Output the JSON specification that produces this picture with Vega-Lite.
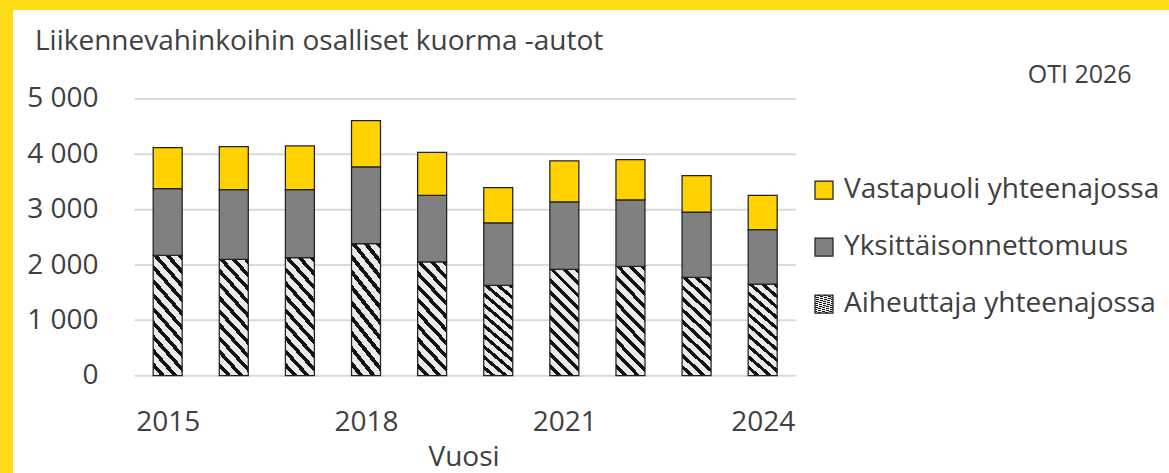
{
  "$schema": "https://vega.github.io/schema/vega-lite/v6.json",
  "width": 1156,
  "height": 463,
  "autosize": {"type": "none"},
  "padding": {"left": 13, "top": 10, "right": 0, "bottom": 0},
  "background": "#FDDC17",
  "config": {
    "view": {"fill": "#ffffff", "stroke": null},
    "font": "Open Sans",
    "axis": {"labelFont": "Open Sans", "titleFont": "Open Sans", "labelColor": "#404040", "titleColor": "#404040", "domain": false, "ticks": false, "tickSize": 0, "grid": false, "labelFontSize": 28, "titleFontSize": 28, "titleFontWeight": "normal"},
    "legend": {"labelFont": "Open Sans", "labelFontSize": 28, "labelColor": "#404040", "labelLimit": 500}
  },
  "title": {"text": "Liikennevahinkoihin osalliset kuorma -autot", "anchor": "start", "frame": "group", "dx": 22, "dy": 68, "offset": 0, "baseline": "alphabetic", "fontSize": 28, "fontWeight": "normal", "color": "#404040", "font": "Open Sans"},
  "datasets": {
    "bars": [
      {"year": 2015, "s": "Aiheuttaja yhteenajossa", "n": 2176},
      {"year": 2015, "s": "Yksittäisonnettomuus", "n": 1204},
      {"year": 2015, "s": "Vastapuoli yhteenajossa", "n": 741},
      {"year": 2016, "s": "Aiheuttaja yhteenajossa", "n": 2104},
      {"year": 2016, "s": "Yksittäisonnettomuus", "n": 1258},
      {"year": 2016, "s": "Vastapuoli yhteenajossa", "n": 777},
      {"year": 2017, "s": "Aiheuttaja yhteenajossa", "n": 2133},
      {"year": 2017, "s": "Yksittäisonnettomuus", "n": 1229},
      {"year": 2017, "s": "Vastapuoli yhteenajossa", "n": 789},
      {"year": 2018, "s": "Aiheuttaja yhteenajossa", "n": 2386},
      {"year": 2018, "s": "Yksittäisonnettomuus", "n": 1386},
      {"year": 2018, "s": "Vastapuoli yhteenajossa", "n": 837},
      {"year": 2019, "s": "Aiheuttaja yhteenajossa", "n": 2055},
      {"year": 2019, "s": "Yksittäisonnettomuus", "n": 1205},
      {"year": 2019, "s": "Vastapuoli yhteenajossa", "n": 777},
      {"year": 2020, "s": "Aiheuttaja yhteenajossa", "n": 1634},
      {"year": 2020, "s": "Yksittäisonnettomuus", "n": 1126},
      {"year": 2020, "s": "Vastapuoli yhteenajossa", "n": 638},
      {"year": 2021, "s": "Aiheuttaja yhteenajossa", "n": 1923},
      {"year": 2021, "s": "Yksittäisonnettomuus", "n": 1216},
      {"year": 2021, "s": "Vastapuoli yhteenajossa", "n": 741},
      {"year": 2022, "s": "Aiheuttaja yhteenajossa", "n": 1977},
      {"year": 2022, "s": "Yksittäisonnettomuus", "n": 1198},
      {"year": 2022, "s": "Vastapuoli yhteenajossa", "n": 729},
      {"year": 2023, "s": "Aiheuttaja yhteenajossa", "n": 1778},
      {"year": 2023, "s": "Yksittäisonnettomuus", "n": 1180},
      {"year": 2023, "s": "Vastapuoli yhteenajossa", "n": 657},
      {"year": 2024, "s": "Aiheuttaja yhteenajossa", "n": 1657},
      {"year": 2024, "s": "Yksittäisonnettomuus", "n": 982},
      {"year": 2024, "s": "Vastapuoli yhteenajossa", "n": 621}
    ],
    "grid": [{"v": 0}, {"v": 1000}, {"v": 2000}, {"v": 3000}, {"v": 4000}, {"v": 5000}],
    "note": [{"t": "OTI 2026"}]
  },
  "layer": [
    {
      "data": {"name": "grid"},
      "mark": {"type": "rule", "color": "#D9D9D9", "strokeWidth": 2},
      "encoding": {
        "y": {"field": "v", "type": "quantitative", "scale": {"domain": [-1758, 6608], "nice": false, "zero": false},
              "axis": {"values": [0, 1000, 2000, 3000, 4000, 5000], "labelExpr": "replace(format(datum.value, ','), ',', ' ')", "title": null, "offset": -87, "labelPadding": 2}},
        "x": {"datum": 2014.5, "type": "quantitative", "scale": {"domain": [2012.736, 2030.07], "nice": false, "zero": false},
              "axis": {"values": [2015, 2018, 2021, 2024], "format": "d", "title": "Vuosi", "offset": -65, "labelPadding": 0, "labelFlush": false, "labelOverlap": false, "titleX": 450.5, "titleY": 57, "titleBaseline": "alphabetic"}},
        "x2": {"datum": 2024.5}
      }
    },
    {
      "data": {"name": "bars"},
      "transform": [{"calculate": "indexof(['Aiheuttaja yhteenajossa','Yksittäisonnettomuus','Vastapuoli yhteenajossa'], datum.s)", "as": "ord"}],
      "mark": {"type": "bar", "width": 29, "stroke": "#222222", "strokeWidth": 1.25},
      "encoding": {
        "x": {"field": "year", "type": "quantitative",
              "axis": {"values": [2015, 2018, 2021, 2024], "format": "d", "title": "Vuosi", "offset": -65, "labelPadding": 0, "labelFlush": false, "labelOverlap": false, "titleX": 450.5, "titleY": 57, "titleBaseline": "alphabetic"}},
        "y": {"field": "n", "type": "quantitative", "stack": "zero",
              "axis": {"values": [0, 1000, 2000, 3000, 4000, 5000], "labelExpr": "replace(format(datum.value, ','), ',', ' ')", "title": null, "offset": -87, "labelPadding": 2}},
        "color": {"field": "s", "type": "nominal",
          "scale": {"domain": ["Vastapuoli yhteenajossa", "Yksittäisonnettomuus", "Aiheuttaja yhteenajossa"],
                    "range": ["#FFD200", "#808080", {"expr": "{gradient:'linear',x1:0.069,y1:-0.254,x2:-0.254,y2:0.931,stops:[{offset:0,color:'#111111'},{offset:0.0364,color:'#111111'},{offset:0.0364,color:'#eaeaea'},{offset:0.0909,color:'#eaeaea'},{offset:0.0909,color:'#111111'},{offset:0.1273,color:'#111111'},{offset:0.1273,color:'#eaeaea'},{offset:0.1818,color:'#eaeaea'},{offset:0.1818,color:'#111111'},{offset:0.2182,color:'#111111'},{offset:0.2182,color:'#eaeaea'},{offset:0.2727,color:'#eaeaea'},{offset:0.2727,color:'#111111'},{offset:0.3091,color:'#111111'},{offset:0.3091,color:'#eaeaea'},{offset:0.3636,color:'#eaeaea'},{offset:0.3636,color:'#111111'},{offset:0.4,color:'#111111'},{offset:0.4,color:'#eaeaea'},{offset:0.4545,color:'#eaeaea'},{offset:0.4545,color:'#111111'},{offset:0.4909,color:'#111111'},{offset:0.4909,color:'#eaeaea'},{offset:0.5455,color:'#eaeaea'},{offset:0.5455,color:'#111111'},{offset:0.5818,color:'#111111'},{offset:0.5818,color:'#eaeaea'},{offset:0.6364,color:'#eaeaea'},{offset:0.6364,color:'#111111'},{offset:0.6727,color:'#111111'},{offset:0.6727,color:'#eaeaea'},{offset:0.7273,color:'#eaeaea'},{offset:0.7273,color:'#111111'},{offset:0.7636,color:'#111111'},{offset:0.7636,color:'#eaeaea'},{offset:0.8182,color:'#eaeaea'},{offset:0.8182,color:'#111111'},{offset:0.8545,color:'#111111'},{offset:0.8545,color:'#eaeaea'},{offset:0.9091,color:'#eaeaea'},{offset:0.9091,color:'#111111'},{offset:0.9455,color:'#111111'},{offset:0.9455,color:'#eaeaea'},{offset:1,color:'#eaeaea'}]}"}]},
          "legend": {"orient": "none", "legendX": 797, "legendY": 166, "title": null, "symbolType": "square", "symbolSize": 324, "symbolStrokeColor": "#222222", "symbolStrokeWidth": 1.25, "labelOffset": 6, "rowPadding": 29, "padding": 0, "labelFontSize": 28, "labelLimit": 500}},
        "order": {"field": "ord", "type": "quantitative"}
      }
    },
    {
      "data": {"name": "note"},
      "mark": {"type": "text", "align": "right", "baseline": "alphabetic", "fontSize": 25, "color": "#404040", "font": "Open Sans"},
      "encoding": {
        "x": {"datum": 2029.58, "type": "quantitative"},
        "y": {"datum": 5289, "type": "quantitative"},
        "text": {"field": "t"}
      }
    }
  ]
}
